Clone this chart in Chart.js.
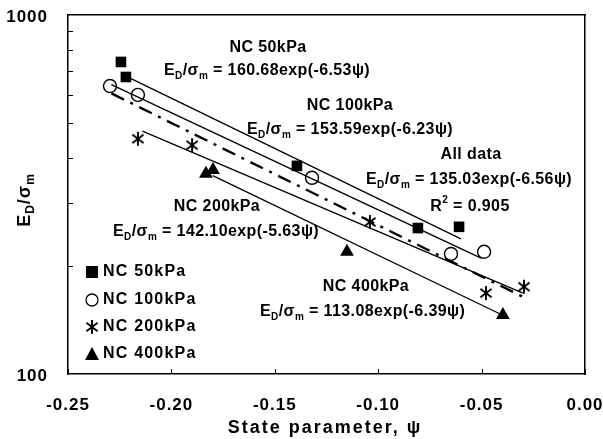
<!DOCTYPE html>
<html>
<head>
<meta charset="utf-8">
<script src="https://cdn.jsdelivr.net/npm/chart.js@4.4.1/dist/chart.umd.min.js"></script>
<style>
  html, body { margin: 0; padding: 0; background: #fff; }
  #wrap { width: 603px; height: 439px; }
</style>
</head>
<body>
<div id="wrap"><canvas id="c" width="603" height="439"></canvas></div>
<script>
// measured points (psi, ED/sigma_m)
const nc50x = [-0.2244, -0.2220, -0.1393, -0.0808, -0.0609];
const nc50y = [740, 672, 380, 255, 257];
const nc100x = [-0.2297, -0.2162, -0.1320, -0.0648, -0.0488];
const nc100y = [634, 599, 352, 216, 219];
const nc200x = [-0.2162, -0.1900, -0.1040, -0.0479, -0.0295];
const nc200y = [452, 434, 265, 168, 175];
const nc400x = [-0.1833, -0.1799, -0.1151, -0.0397];
const nc400y = [361, 370, 219, 146];

// fitted lines, end points
const fit50x = [-0.222, -0.060];
const fit50y = [676, 238];
const fit100x = [-0.229, -0.050];
const fit100y = [640, 210];
const fit200x = [-0.214, -0.030];
const fit200y = [475, 168];
const fit400x = [-0.180, -0.040];
const fit400y = [357, 146];
const fitAllx = [-0.229, -0.030];
const fitAlly = [605, 164];

const xTicks = [-0.25, -0.20, -0.15, -0.10, -0.05, 0.00];
const yTicks = [100, 1000];
const yMinor = [200, 300, 400, 500, 600, 700, 800, 900];
const legendNames = ['NC 50kPa', 'NC 100kPa', 'NC 200kPa', 'NC 400kPa'];

const FONT = '"Liberation Sans", Arial, sans-serif';

function pts(xs, ys) {
    return xs.map((x, i) => ({ x: x, y: ys[i] }));
}

// asterisk marker: X with a vertical bar
function makeStar(size) {
    const cv = document.createElement('canvas');
    cv.width = size; cv.height = size;
    const g = cv.getContext('2d');
    const c = size / 2, r = size / 2 - 1;
    g.strokeStyle = '#000';
    g.lineWidth = 1.9;
    g.beginPath();
    g.moveTo(c, c - r); g.lineTo(c, c + r);
    g.moveTo(c - r * 0.8, c - r * 0.6); g.lineTo(c + r * 0.8, c + r * 0.6);
    g.moveTo(c + r * 0.8, c - r * 0.6); g.lineTo(c - r * 0.8, c + r * 0.6);
    g.stroke();
    return cv;
}
const starImg = makeStar(16);

function fitLine(xs, ys, dash) {
    return {
        data: pts(xs, ys),
        showLine: true,
        borderColor: '#000',
        borderWidth: dash ? 2.4 : 1.3,
        borderDash: dash || [],
        pointRadius: 0,
        fill: false
    };
}

// text with sub/superscripts: parts = [[text, 'n'|'sub'|'sup'], ...]
function richText(ctx, parts, x, y, size, align, sp) {
    ctx.letterSpacing = (sp || 0) + 'px';
    const sz = p => (p[1] === 'n' ? size : Math.round(size * 0.65));
    const widths = parts.map(p => {
        ctx.font = 'bold ' + sz(p) + 'px ' + FONT;
        return ctx.measureText(p[0]).width;
    });
    const total = widths.reduce((a, b) => a + b, 0);
    let cx = x;
    if (align === 'center') cx = x - total / 2;
    if (align === 'right') cx = x - total;
    parts.forEach((p, i) => {
        ctx.font = 'bold ' + sz(p) + 'px ' + FONT;
        let dy = 0;
        if (p[1] === 'sub') dy = size * 0.3;
        if (p[1] === 'sup') dy = -size * 0.4;
        ctx.fillText(p[0], cx, y + dy);
        cx += widths[i];
    });
    ctx.letterSpacing = '0px';
}

function eq(a) {
    return [['E', 'n'], ['D', 'sub'], ['/σ', 'n'], ['m', 'sub'], [' = ' + a, 'n']];
}

const decorPlugin = {
    id: 'decor',
    afterDraw(chart) {
        const ctx = chart.ctx;
        const xs = chart.scales.x, ys = chart.scales.y;
        const a = chart.chartArea;
        ctx.save();
        // inward ticks
        ctx.strokeStyle = '#000';
        ctx.lineWidth = 1;
        ctx.beginPath();
        xTicks.forEach(t => {
            const px = Math.round(xs.getPixelForValue(t)) + 0.5;
            ctx.moveTo(px, a.bottom); ctx.lineTo(px, a.bottom - 5);
        });
        yMinor.forEach(t => {
            const py = Math.round(ys.getPixelForValue(t)) + 0.5;
            ctx.moveTo(a.left, py); ctx.lineTo(a.left + 5, py);
        });
        ctx.stroke();

        ctx.fillStyle = '#000';
        ctx.textBaseline = 'middle';
        ctx.textAlign = 'left';

        // tick labels
        xTicks.forEach(t => {
            richText(ctx, [[t.toFixed(2), 'n']], xs.getPixelForValue(t), 405, 17, 'center', 1);
        });
        yTicks.forEach(t => {
            richText(ctx, [[String(t), 'n']], a.left - 20, ys.getPixelForValue(t) + 2, 17, 'right', 1);
        });

        // annotations
        const S = 16, SP = 0.4;
        richText(ctx, [['NC 50kPa', 'n']], 268, 48, S, 'center', SP);
        richText(ctx, eq('160.68exp(-6.53ψ)'), 164, 71, S, 'left', SP);
        richText(ctx, [['NC 100kPa', 'n']], 350, 106, S, 'center', SP);
        richText(ctx, eq('153.59exp(-6.23ψ)'), 247, 130, S, 'left', SP);
        richText(ctx, [['All data', 'n']], 471, 155, S, 'center', SP);
        richText(ctx, eq('135.03exp(-6.56ψ)'), 366, 180, S, 'left', SP);
        richText(ctx, [['R', 'n'], ['2', 'sup'], [' = 0.905', 'n']], 470, 207, S, 'center', SP);
        richText(ctx, [['NC 200kPa', 'n']], 217, 207, S, 'center', SP);
        richText(ctx, eq('142.10exp(-5.63ψ)'), 113, 232, S, 'left', SP);
        richText(ctx, [['NC 400kPa', 'n']], 366, 287, S, 'center', SP);
        richText(ctx, eq('113.08exp(-6.39ψ)'), 260, 312, S, 'left', SP);

        // legend
        const legY = [272, 300, 327, 354];
        const legX = 92;
        ctx.fillRect(legX - 6, legY[0] - 6, 12, 12);
        ctx.beginPath();
        ctx.arc(legX, legY[1], 6, 0, Math.PI * 2);
        ctx.lineWidth = 1.3;
        ctx.stroke();
        ctx.drawImage(starImg, legX - 8, legY[2] - 8);
        ctx.beginPath();
        ctx.moveTo(legX, legY[3] - 7); ctx.lineTo(legX + 7, legY[3] + 6); ctx.lineTo(legX - 7, legY[3] + 6);
        ctx.closePath(); ctx.fill();
        legendNames.forEach((t, i) => {
            richText(ctx, [[t, 'n']], 103, legY[i], 16, 'left', 1.2);
        });

        // axis titles
        richText(ctx, [['State parameter, ψ', 'n']], 325, 428, 18, 'center', 2);
        ctx.translate(25, 200);
        ctx.rotate(-Math.PI / 2);
        richText(ctx, [['E', 'n'], ['D', 'sub'], ['/σ', 'n'], ['m', 'sub']], 0, 0, 18, 'center', 1);
        ctx.restore();
    }
};

new Chart(document.getElementById('c'), {
    type: 'scatter',
    data: {
        datasets: [
            fitLine(fit50x, fit50y),
            fitLine(fit100x, fit100y),
            fitLine(fit200x, fit200y),
            fitLine(fit400x, fit400y),
            fitLine(fitAllx, fitAlly, [14, 7, 3, 7]),
            { label: legendNames[0], data: pts(nc50x, nc50y), pointStyle: 'rect', pointRadius: 7.5, backgroundColor: '#000', borderColor: '#000', borderWidth: 0 },
            { label: legendNames[1], data: pts(nc100x, nc100y), pointStyle: 'circle', pointRadius: 6.5, backgroundColor: '#fff', borderColor: '#000', borderWidth: 1.4 },
            { label: legendNames[2], data: pts(nc200x, nc200y), pointStyle: starImg, pointRadius: 8 },
            { label: legendNames[3], data: pts(nc400x, nc400y), pointStyle: 'triangle', pointRadius: 8, backgroundColor: '#000', borderColor: '#000', borderWidth: 0 }
        ]
    },
    options: {
        responsive: false,
        animation: false,
        layout: { padding: { top: 15, right: 18, left: 0, bottom: 0 } },
        plugins: { legend: { display: false }, tooltip: { enabled: false } },
        scales: {
            x: {
                type: 'linear',
                min: -0.25,
                max: 0,
                afterBuildTicks: (s) => { s.ticks = xTicks.map(v => ({ value: v })); },
                afterFit: (s) => { s.height = 65; },
                grid: { display: false, drawTicks: false },
                border: { display: true, color: '#000', width: 1.5 },
                ticks: { display: false }
            },
            y: {
                type: 'logarithmic',
                min: 100,
                max: 1000,
                afterBuildTicks: (s) => { s.ticks = yTicks.map(v => ({ value: v })); },
                afterFit: (s) => { s.width = 68; },
                grid: { display: false, drawTicks: false },
                border: { display: true, color: '#000', width: 1.5 },
                ticks: { display: false }
            },
            x2: {
                type: 'linear', position: 'top', display: true,
                grid: { display: false, drawTicks: false },
                border: { display: true, color: '#000', width: 1.5 },
                ticks: { display: false },
                afterFit: (s) => { s.height = 0; }
            },
            y2: {
                type: 'linear', position: 'right', display: true,
                grid: { display: false, drawTicks: false },
                border: { display: true, color: '#000', width: 1.5 },
                ticks: { display: false },
                afterFit: (s) => { s.width = 0; }
            }
        }
    },
    plugins: [decorPlugin]
});
</script>
</body>
</html>
